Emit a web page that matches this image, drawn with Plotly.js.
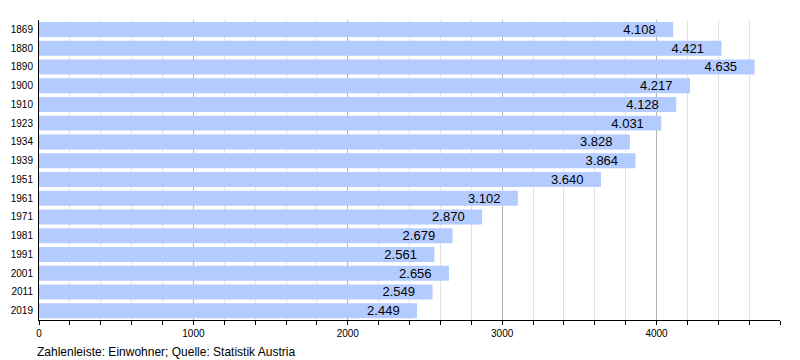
<!DOCTYPE html>
<html><head><meta charset="utf-8">
<script src="https://cdn.plot.ly/plotly-3.0.1.min.js"></script>
<style>html,body{margin:0;padding:0;background:#fff}#chart{width:800px;height:360px}</style>
</head><body><div id="chart"></div>
<script>
const years = ["1869","1880","1890","1900","1910","1923","1934","1939","1951","1961","1971","1981","1991","2001","2011","2019"];
const population = [4108,4421,4635,4217,4128,4031,3828,3864,3640,3102,2870,2679,2561,2656,2549,2449];
const labels = ["4.108","4.421","4.635","4.217","4.128","4.031","3.828","3.864","3.640","3.102","2.870","2.679","2.561","2.656","2.549","2.449"];
const footer = "Zahlenleiste: Einwohner; Quelle: Statistik Austria";

const font = "Liberation Sans, Arial, sans-serif";
const pad = "\u00a0\u00a0\u00a0\u00a0";
Plotly.newPlot("chart", [{
  type: "bar", orientation: "h",
  y: years, x: population, text: labels.map(t => t + pad),
  textposition: "inside", insidetextanchor: "end", constraintext: "none",
  textfont: {family: font, size: 13, color: "#000"},
  marker: {color: "#b3cbff"},
  hoverinfo: "none", cliponaxis: false
}], {
  width: 800, height: 360,
  margin: {l: 39, r: 20, t: 20, b: 40},
  paper_bgcolor: "#fff", plot_bgcolor: "#fff",
  bargap: 0.2, showlegend: false,
  font: {family: font, size: 10, color: "#000"},
  xaxis: {
    range: [0, 4800], dtick: 1000, tick0: 0,
    showgrid: true, gridcolor: "#b3b3b3", gridwidth: 1,
    showline: true, linecolor: "#000", linewidth: 1,
    ticks: "outside", ticklen: 4, tickcolor: "#000",
    tickfont: {size: 10, family: font},
    zeroline: false,
    minor: {dtick: 200, showgrid: true, gridcolor: "#e3e3e3", gridwidth: 1, ticks: "outside", ticklen: 4, tickcolor: "#000"}
  },
  yaxis: {
    type: "category", autorange: "reversed",
    showline: true, linecolor: "#000", linewidth: 1,
    ticks: "", showgrid: false, zeroline: false,
    tickfont: {size: 10, family: font}, ticklabelstandoff: 3
  },
  annotations: [{
    text: footer, xref: "paper", yref: "paper", x: -0.005, y: -0.075,
    xanchor: "left", yanchor: "top", showarrow: false,
    font: {family: font, size: 12, color: "#000"}
  }]
}, {displayModeBar: false, staticPlot: true});
</script></body></html>
